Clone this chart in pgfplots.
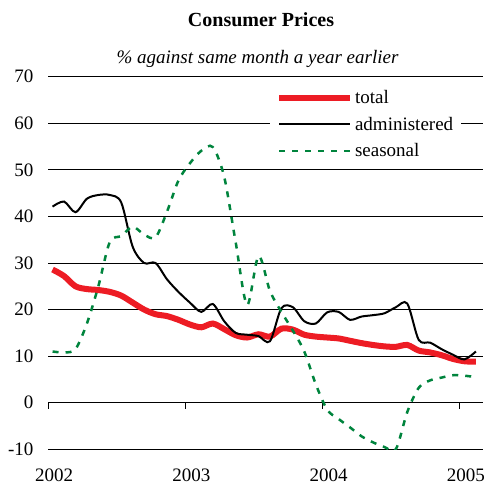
\documentclass[border=0pt]{standalone}
\usepackage{fontspec}
\setmainfont{Liberation Serif}
\usepackage{pgfplots}
\pgfplotsset{compat=1.18}
\definecolor{totred}{RGB}{237,28,36}
\definecolor{seagreen}{RGB}{0,132,61}
\pgfplotstableread{
m total admin seasonal
0 28.6 42.1 11.0
1 27.2 43.2 10.8
2 25.0 40.9 11.5
3 24.4 43.8 17.0
4 24.2 44.6 25.0
5 23.8 44.6 34.5
6 23.0 43.0 35.8
7 21.5 33.5 37.8
8 20.0 30.0 36.1
9 19.0 30.0 35.5
10 18.6 26.5 41.0
11 17.8 23.8 47.7
12 16.8 21.5 51.4
13 16.2 19.5 54.1
14 17.0 21.2 54.9
15 15.8 17.5 48.5
16 14.5 15.0 34.5
17 14.0 14.6 21.0
18 14.7 14.3 31.5
19 14.2 13.2 24.0
20 15.9 20.3 19.5
21 15.7 20.5 15.5
22 14.6 17.5 11.0
23 14.2 17.0 4.0
24 14.0 19.4 -1.5
25 13.8 19.5 -3.5
26 13.3 17.8 -5.3
27 12.8 18.5 -7.2
28 12.4 18.8 -8.5
29 12.1 19.2 -9.5
30 12.0 20.5 -10.0
31 12.4 21.3 -2.0
32 11.2 13.5 3.2
33 10.8 12.9 4.8
34 10.2 11.5 5.4
35 9.4 10.3 5.9
36 8.9 9.3 5.8
37 8.8 11.0 5.5
}\data
\begin{document}
\begin{tikzpicture}
\useasboundingbox (0pt,0pt) rectangle (486pt,486pt);
\node[font=\fontsize{20}{24}\selectfont\bfseries, anchor=base] at (261pt,459pt) {Consumer Prices};
\node[font=\fontsize{19}{23}\selectfont\itshape, anchor=base] at (257.5pt,422pt) {\% against same month a year earlier};
\begin{axis}[
  at={(48pt,36.7pt)}, anchor=south west, scale only axis,
  width=435pt, height=372.6pt,
  xmin=-0.4, xmax=37.62, ymin=-10, ymax=70,
  axis x line*=bottom, axis y line*=left,
  axis line style={draw=none},
  major tick length=0pt,
  xtick={-0.4,11.6,23.6,35.6},
  xticklabels={2002,2003,2004,2005},
  ytick={-10,0,10,20,30,40,50,60,70},
  ymajorgrids, grid style={black, line width=0.8pt},
  tick label style={font=\fontsize{19}{22}\selectfont},
  /pgf/number format/assume math mode=true,
  xticklabel style={xshift=6pt, yshift=-16pt},
  yticklabel style={xshift=-11pt},
  clip=true,
  legend style={at={(rel axis cs:0.51,0.975)}, anchor=north west, draw=none, fill=white,
    font=\fontsize{19}{22}\selectfont, row sep=8pt, inner xsep=6pt},
  legend cell align=left,
  legend image code/.code={\draw[#1] (0pt,0pt) -- (71pt,0pt);},
]
\draw[black, line width=0.8pt] (axis cs:-0.4,0) -- (axis cs:37.62,0);
\draw[black, line width=0.8pt] (axis cs:-0.4,0) -- ([yshift=-6pt]axis cs:-0.4,0);
\draw[black, line width=0.8pt] (axis cs:11.6,0) -- ([yshift=-6pt]axis cs:11.6,0);
\draw[black, line width=0.8pt] (axis cs:23.6,0) -- ([yshift=-6pt]axis cs:23.6,0);
\draw[black, line width=0.8pt] (axis cs:35.6,0) -- ([yshift=-6pt]axis cs:35.6,0);
\addplot[totred, line width=6pt, smooth, tension=0.5] table[x=m, y=total] {\data};
\addlegendentry{total}
\addplot[black, line width=2pt, smooth, tension=0.5] table[x=m, y=admin] {\data};
\addlegendentry{administered}
\addplot[seagreen, line width=2.5pt, dash pattern=on 6pt off 7pt, smooth, tension=0.5] table[x=m, y=seasonal] {\data};
\addlegendentry{seasonal}
\end{axis}
\end{tikzpicture}
\end{document}
